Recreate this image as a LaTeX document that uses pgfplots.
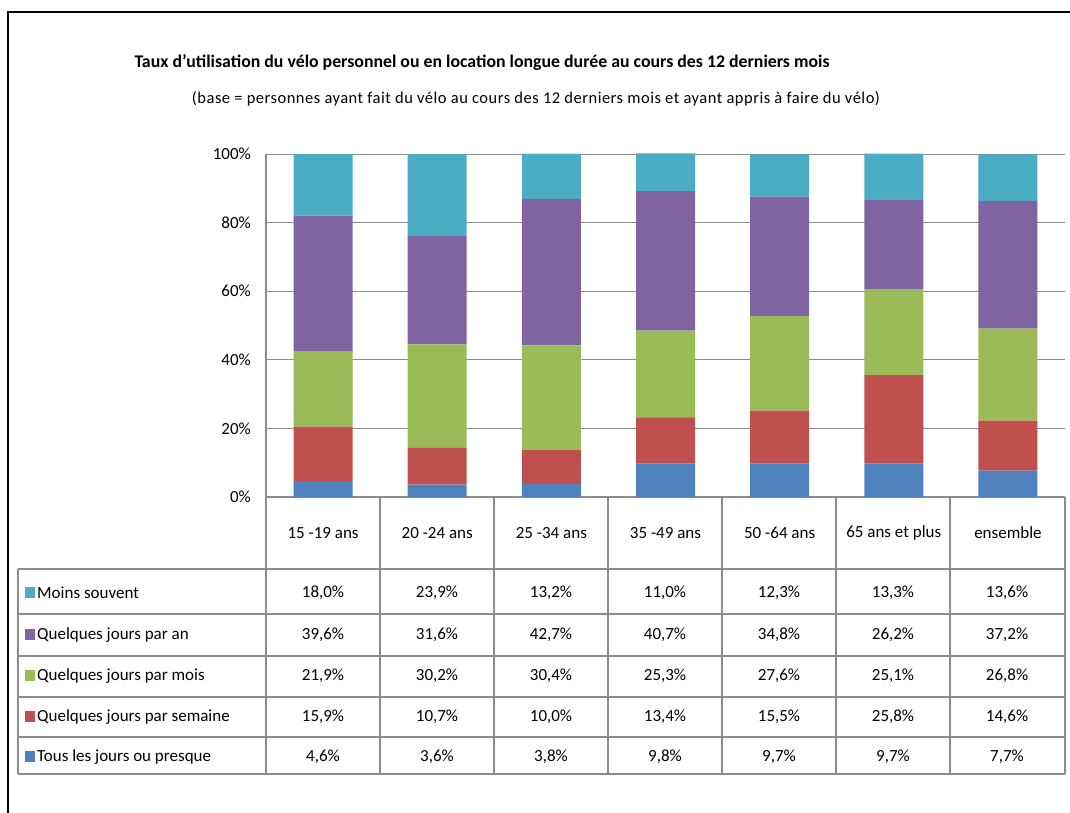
\documentclass[border=0pt]{standalone}
\usepackage{pgfplots}
\usepackage{pgfplotstable}
\pgfplotsset{compat=1.18}
\usepackage{fontspec}
\setmainfont{Carlito}

\definecolor{cblue}{HTML}{4F81BD}
\definecolor{cred}{HTML}{C0504D}
\definecolor{cgreen}{HTML}{9BBB59}
\definecolor{cpurple}{HTML}{8064A2}
\definecolor{caqua}{HTML}{4BACC6}
\definecolor{lgray}{HTML}{8C8C8C}

% values in %, one row per age group
\pgfplotstableread{
cat blue red green purple aqua
0 4.6 15.9 21.9 39.6 18.0
1 3.6 10.7 30.2 31.6 23.9
2 3.8 10.0 30.4 42.7 13.2
3 9.8 13.4 25.3 40.7 11.0
4 9.7 15.5 27.6 34.8 12.3
5 9.7 25.8 25.1 26.2 13.3
6 7.7 14.6 26.8 37.2 13.6
}\data

\newcommand{\txt}{\fontsize{17}{20}\selectfont}

\begin{document}
\begin{tikzpicture}
\useasboundingbox (0,0) rectangle (1070pt,-813pt);

% outer frame
\draw[line width=2.6pt] (8pt,-813pt) -- (8pt,-12pt) -- (1072pt,-12pt);

\node[font=\fontsize{17.8}{20}\selectfont\bfseries] at (482pt,-63pt)
  {Taux d'utilisation du vélo personnel ou en location longue durée au cours des 12 derniers mois};
\node[font=\fontsize{16.5}{18}\selectfont\addfontfeature{LetterSpace=3}] at (536pt,-99pt)
  {(base = personnes ayant fait du vélo au cours des 12 derniers mois et ayant appris à faire du vélo)};

\begin{axis}[
  at={(266pt,-497pt)}, anchor=south west,
  scale only axis, width=799pt, height=343pt,
  ybar stacked, bar width=59pt,
  xmin=-0.5, xmax=6.5, ymin=0, ymax=100,
  axis lines*=left,
  axis line style={lgray, line width=1.2pt},
  xtick={0,...,6},
  xticklabels={15 -19 ans, 20 -24 ans, 25 -34 ans, 35 -49 ans, 50 -64 ans, 65 ans et plus, ensemble},
  xticklabel style={anchor=center, yshift=-36pt},
  ytick={0,20,...,100},
  yticklabel={\pgfmathprintnumber{\tick}\%},
  yticklabel style={anchor=east, inner xsep=0pt, xshift=-15pt},
  /pgf/number format/assume math mode=true,
  major tick length=0pt,
  tick label style={font=\txt},
  ymajorgrids,
  grid style={lgray, line width=1pt},
  clip=false,
]
\addplot[fill=cblue, draw=none] table[x=cat, y=blue] {\data};
\addplot[fill=cred, draw=none] table[x=cat, y=red] {\data};
\addplot[fill=cgreen, draw=none] table[x=cat, y=green] {\data};
\addplot[fill=cpurple, draw=none] table[x=cat, y=purple] {\data};
\addplot[fill=caqua, draw=none] table[x=cat, y=aqua] {\data};
\end{axis}

% data table grid
\begin{scope}[lgray, line width=1.1pt]
  \foreach \yy in {569,614,656,697,737,774}
    \draw (18pt,-\yy pt) -- (1065pt,-\yy pt);
  \draw (18pt,-569pt) -- (18pt,-774pt);
  \foreach \xx in {266,380,494,608,722,836,950,1065}
    \draw (\xx pt,-497pt) -- (\xx pt,-774pt);
\end{scope}

% legend keys and labels
\foreach \c/\lab/\yy in {caqua/Moins souvent/593,
                         cpurple/Quelques jours par an/635,
                         cgreen/Quelques jours par mois/676,
                         cred/Quelques jours par semaine/717,
                         cblue/Tous les jours ou presque/757} {
  \fill[\c] (25pt,-\yy pt+6pt) rectangle (35pt,-\yy pt-5pt);
  \node[font=\txt, anchor=west, inner sep=0pt] at (37pt,-\yy pt) {\lab};
}

% table values
\foreach \col/\yy in {aqua/593, purple/635, green/676, red/717, blue/757} {
  \foreach \r in {0,...,6} {
    \pgfplotstablegetelem{\r}{\col}\of\data
    \node[font=\txt] at (323pt+114pt*\r,-\yy pt)
      {\pgfmathprintnumber[fixed, fixed zerofill, precision=1, use comma, assume math mode=true]{\pgfplotsretval}\%};
  }
}
\end{tikzpicture}
\end{document}
